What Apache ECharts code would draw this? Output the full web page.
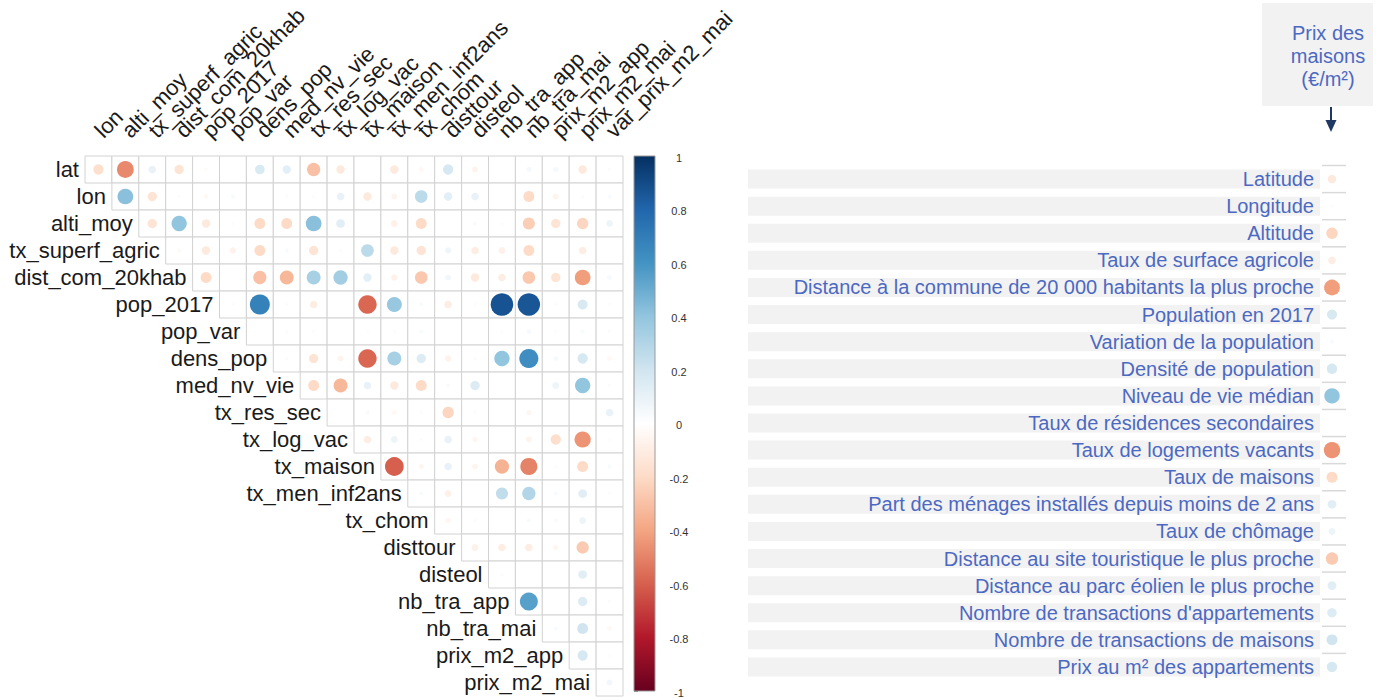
<!DOCTYPE html>
<html><head><meta charset="utf-8">
<script src="https://cdn.jsdelivr.net/npm/echarts@6/dist/echarts.min.js"></script>
<style>html,body{margin:0;padding:0;background:#fff}#c{width:1376px;height:698px}</style>
</head><body><div id="c"></div>
<script>
// variables (rows = first 20, columns = last 20)
const variables = ['lat','lon','alti_moy','tx_superf_agric','dist_com_20khab','pop_2017','pop_var','dens_pop','med_nv_vie','tx_res_sec','tx_log_vac','tx_maison','tx_men_inf2ans','tx_chom','disttour','disteol','nb_tra_app','nb_tra_mai','prix_m2_app','prix_m2_mai','var_prix_m2_mai'];
const rowNames = variables.slice(0, 20);
const colNames = variables.slice(1);

// upper-triangle correlations: row i, columns i..19 (column list = colNames)
const r_lat            = [-0.18,-0.48,0.10,-0.15,-0.02,0.01,0.16,0.12,-0.30,-0.12,0.00,-0.12,-0.04,0.18,-0.06,0.00,0.05,0.05,-0.12,0.02];
const r_lon            = [0.42,-0.15,0.02,-0.04,0.03,0.01,0.02,0.02,0.10,-0.12,-0.06,0.27,0.12,0.10,0.01,-0.20,-0.06,-0.02,0.03];
const r_alti_moy       = [-0.15,0.40,-0.12,0.02,-0.20,-0.20,0.42,0.13,0.01,-0.08,-0.20,0.00,0.03,0.02,-0.25,-0.15,-0.22,0.08];
const r_tx_superf      = [-0.03,-0.12,-0.07,-0.20,0.03,-0.15,0.02,0.27,-0.12,-0.15,0.07,-0.10,-0.08,-0.20,0.00,-0.10,0.00];
const r_dist_com       = [-0.20,0.01,-0.30,-0.33,0.33,0.35,0.12,-0.07,-0.27,0.06,-0.12,-0.10,-0.27,-0.15,-0.42,0.04];
const r_pop_2017       = [0.02,0.68,0.02,-0.10,0.00,-0.58,0.38,0.03,-0.10,0.02,0.87,0.86,0.02,0.17,0.02];
const r_pop_var        = [0.00,0.02,0.02,0.00,0.02,0.02,0.03,0.00,0.00,0.02,0.04,0.02,0.03,0.02];
const r_dens_pop       = [0.02,-0.15,-0.06,-0.58,0.33,0.15,-0.07,0.02,0.40,0.62,0.04,0.18,-0.04];
const r_med_nv_vie     = [-0.20,-0.33,0.10,-0.12,-0.20,0.03,0.15,0.01,0.01,0.08,0.40,0.02];
const r_tx_res_sec     = [0.00,0.03,-0.04,0.02,-0.22,0.02,0.00,-0.05,0.01,0.01,0.10];
const r_tx_log_vac     = [-0.10,0.08,0.02,0.10,-0.05,0.00,-0.06,-0.18,-0.45,0.02];
const r_tx_maison      = [-0.60,-0.05,0.10,-0.06,-0.35,-0.50,0.02,-0.20,0.03];
const r_tx_men_inf2ans = [0.03,-0.08,0.00,0.25,0.30,0.03,0.13,0.02];
const r_tx_chom        = [-0.05,0.02,0.01,0.03,0.03,0.08,0.00];
const r_disttour       = [-0.08,-0.10,-0.10,-0.05,-0.26,0.00];
const r_disteol        = [0.02,0.01,0.00,0.13,0.00];
const r_nb_tra_app     = [0.55,0.00,0.15,0.02];
const r_nb_tra_mai     = [0.03,0.20,-0.04];
const r_prix_m2_app    = [0.18,0.02];
const r_prix_m2_mai    = [0.06];

const corrRows = [r_lat,r_lon,r_alti_moy,r_tx_superf,r_dist_com,r_pop_2017,r_pop_var,r_dens_pop,r_med_nv_vie,r_tx_res_sec,r_tx_log_vac,r_tx_maison,r_tx_men_inf2ans,r_tx_chom,r_disttour,r_disteol,r_nb_tra_app,r_nb_tra_mai,r_prix_m2_app,r_prix_m2_mai];

// right panel labels (correlation with prix_m2_mai)
const prixLabels = ['Latitude','Longitude','Altitude','Taux de surface agricole','Distance à la commune de 20 000 habitants la plus proche','Population en 2017','Variation de la population','Densité de population','Niveau de vie médian','Taux de résidences secondaires','Taux de logements vacants','Taux de maisons','Part des ménages installés depuis moins de 2 ans','Taux de chômage','Distance au site touristique le plus proche','Distance au parc éolien le plus proche',"Nombre de transactions d'appartements",'Nombre de transactions de maisons','Prix au m² des appartements'];
const prixCol = colNames.indexOf('prix_m2_mai');

const colorbarTicks = {min: -1, max: 1, interval: 0.2};
const rdbu = ['#67001F','#B2182B','#D6604D','#F4A582','#FDDBC7','#FFFFFF','#D1E5F0','#92C5DE','#4393C3','#2166AC','#053061'];

// build data
const cellData = [];
corrRows.forEach((vals, i) => vals.forEach((v, k) => cellData.push([i + k, i, v])));
const labelData = rowNames.map((n, i) => [i, i]);
const prixData = prixLabels.map((l, i) => [0, i, corrRows[i][prixCol - i]]);

const FONT = "'Liberation Sans', Arial, sans-serif";
const BLUE = '#4c69c2';

const chart = echarts.init(document.getElementById('c'), null, {renderer: 'svg'});
chart.setOption({
  animation: false,
  backgroundColor: '#fff',
  textStyle: {fontFamily: FONT},
  visualMap: {type: 'continuous', show: false, min: -1, max: 1, dimension: 2, seriesIndex: [0, 3], inRange: {color: rdbu}},
  grid: [
    {left: 85, top: 156, width: 538, height: 540},
    {left: 634, top: 156, width: 21, height: 540},
    {left: 748, top: 165.5, width: 572, height: 515}
  ],
  xAxis: [
    {type: 'category', gridIndex: 0, data: colNames, position: 'top',
     axisLine: {show: false}, axisTick: {show: false}, splitLine: {show: false},
     axisLabel: {interval: 0, rotate: -45, fontSize: 22, color: '#1a1a1a', margin: 22, align: 'left', verticalAlign: 'middle', fontFamily: FONT}},
    {type: 'value', gridIndex: 1, min: 0, max: 1, show: false},
    {type: 'value', gridIndex: 2, min: 0, max: 1, show: false}
  ],
  yAxis: [
    {type: 'category', gridIndex: 0, data: rowNames, inverse: true, show: false},
    {type: 'value', gridIndex: 1, min: colorbarTicks.min, max: colorbarTicks.max, interval: colorbarTicks.interval, position: 'right',
     axisLine: {show: false}, splitLine: {show: false},
     axisTick: {show: true, length: 4, lineStyle: {color: '#888'}},
     axisLabel: {fontSize: 11, color: '#333', align: 'center', margin: 24, verticalAlign: 'top', padding: [-4, 0, 0, 0],
       formatter: v => String(Math.round(v * 10) / 10)}},
    {type: 'category', gridIndex: 2, data: prixLabels, inverse: true, position: 'right', z: 10,
     axisLine: {show: false}, axisTick: {show: false}, splitLine: {show: false},
     axisLabel: {inside: true, margin: 6, fontSize: 20, color: BLUE, fontFamily: FONT}}
  ],
  series: [
    {type: 'custom', xAxisIndex: 0, yAxisIndex: 0, data: cellData, encode: {x: 0, y: 1},
     renderItem: function (params, api) {
       const c = api.coord([api.value(0), api.value(1)]);
       const s = api.size([1, 1]);
       const v = api.value(2);
       const rad = 0.45 * Math.sqrt(Math.abs(v)) * Math.min(s[0], s[1]);
       return {type: 'group', children: [
         {type: 'rect', shape: {x: c[0] - s[0] / 2, y: c[1] - s[1] / 2, width: s[0], height: s[1]},
          style: {fill: '#fff', stroke: '#d2d2d2', lineWidth: 1}},
         {type: 'circle', shape: {cx: c[0], cy: c[1], r: rad}, style: {fill: api.visual('color')}}
       ]};
     }},
    {type: 'custom', xAxisIndex: 0, yAxisIndex: 0, data: labelData, encode: {x: 0, y: 1}, z: 5,
     renderItem: function (params, api) {
       const c = api.coord([api.value(0), api.value(1)]);
       const s = api.size([1, 1]);
       return {type: 'text', x: c[0] - s[0] / 2 - 6, y: c[1],
         style: {text: rowNames[params.dataIndex], align: 'right', verticalAlign: 'middle', fontSize: 22, fill: '#1a1a1a', fontFamily: FONT}};
     }},
    {type: 'custom', xAxisIndex: 1, yAxisIndex: 1, data: [[0, colorbarTicks.max], [1, colorbarTicks.min]],
     renderItem: function (params, api) {
       if (params.dataIndex !== 0) return null;
       const p1 = api.coord([0, colorbarTicks.max]);
       const p2 = api.coord([1, colorbarTicks.min]);
       const stops = rdbu.slice().reverse().map((c, i) => ({offset: i / (rdbu.length - 1), color: c}));
       return {type: 'rect', shape: {x: p1[0], y: p1[1], width: p2[0] - p1[0], height: p2[1] - p1[1]},
         style: {fill: new echarts.graphic.LinearGradient(0, 0, 0, 1, stops), stroke: '#999', lineWidth: 1}};
     }},
    {type: 'custom', xAxisIndex: 2, yAxisIndex: 2, data: prixData, encode: {x: 0, y: 1}, z: 2,
     renderItem: function (params, api) {
       const cs = params.coordSys;
       const c = api.coord([0, api.value(1)]);
       const h = api.size([0, 1])[1];
       const v = api.value(2);
       const right = cs.x + cs.width;
       return {type: 'group', children: [
         {type: 'rect', shape: {x: cs.x, y: c[1] - 9.5, width: cs.width, height: 19}, style: {fill: '#f2f2f2'}},
         {type: 'line', shape: {x1: right + 2, y1: c[1] - h / 2, x2: right + 26, y2: c[1] - h / 2}, style: {stroke: '#d9d9d9', lineWidth: 1.5}},
         {type: 'circle', shape: {cx: right + 12, cy: c[1], r: 0.45 * Math.sqrt(Math.abs(v)) * h}, style: {fill: api.visual('color')}}
       ]};
     }}
  ],
  graphic: [
    {type: 'rect', shape: {x: 1262, y: 3, width: 111, height: 103}, style: {fill: '#f2f2f2'}},
    {type: 'text', x: 1328, y: 56, style: {text: 'Prix des\nmaisons\n(€/m²)', align: 'center', verticalAlign: 'middle', fontSize: 20, lineHeight: 23, fill: BLUE, fontFamily: FONT}},
    {type: 'line', shape: {x1: 1331, y1: 107, x2: 1331, y2: 122}, style: {stroke: '#1f3864', lineWidth: 2}},
    {type: 'polygon', shape: {points: [[1325.5, 120], [1336.5, 120], [1331, 132]]}, style: {fill: '#1f3864'}}
  ]
});
</script></body></html>
